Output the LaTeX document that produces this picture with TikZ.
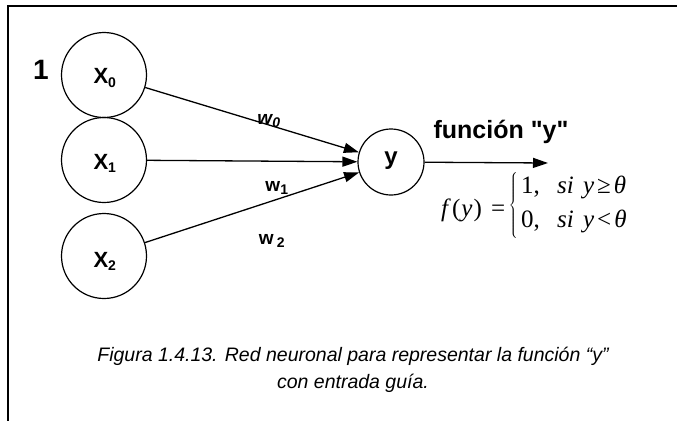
\documentclass[tikz,border=0pt]{standalone}
\usepackage{fontspec}
\setmainfont{Liberation Sans}
\newfontfamily\tnr{Liberation Serif}
\newfontfamily\arialplain{Liberation Sans}
\usetikzlibrary{arrows.meta}
\begin{document}
\begin{tikzpicture}[x=1pt,y=-1pt,
  neuron/.style={draw,line width=1.2pt,circle,minimum size=85pt,inner sep=0pt},
  outn/.style={draw,line width=1.2pt,circle,minimum size=66pt,inner sep=0pt},
  conn/.style={line width=1.3pt,-{Triangle[length=15pt,width=10pt]}},
  lbl/.style={font=\fontsize{22}{24}\selectfont\bfseries},
  wl/.style={font=\fontsize{19}{21}\selectfont\bfseries},
  fml/.style={anchor=base west,inner sep=0pt,font=\fontsize{25}{25}\tnr}]
\useasboundingbox (0,0) rectangle (677,421);
\draw[line width=1.3pt] (677,6) -- (8,6) -- (8,421);
\node[neuron] (x0) at (104,75) {};
\node[neuron] (x1) at (104,160) {};
\node[neuron] (x2) at (104,256) {};
\node[outn] (y) at (391,162) {};
\node[lbl] (lx0) at (105,78) {X\textsubscript{\fontsize{14}{15}\selectfont 0}};
\node[lbl] (lx1) at (105,163) {X\textsubscript{\fontsize{14}{15}\selectfont 1}};
\node[lbl] (lx2) at (105,261) {X\textsubscript{\fontsize{14}{15}\selectfont 2}};
\node[font=\fontsize{24}{26}\selectfont\bfseries] (ly) at (391,161) {y};
\node[font=\fontsize{28}{30}\selectfont\bfseries] (one) at (41,70) {1};
\draw[conn] (x0) -- (y);
\draw[conn] (x1) -- (y);
\draw[conn] (x2) -- (y);
\coordinate (out) at (548,163);
\draw[conn] (y) -- (out);
\node[font=\fontsize{19}{21}\selectfont\bfseries\itshape] (w0) at (269,121) {w\textsubscript{\fontsize{14}{15}\selectfont 0}};
\node[wl] (w1) at (277,188) {w\textsubscript{\fontsize{14}{15}\selectfont 1}};
\node[wl] (w2) at (272,241) {w\,\textsubscript{\fontsize{14}{15}\selectfont 2}};
\node[font=\fontsize{25}{27}\arialplain\bfseries] (fn) at (501,132) {función "y"};
\node[fml] (fy) at (441,216) {\itshape f\hspace{4pt}\upshape(\hspace{1pt}\itshape y\hspace{1pt}\upshape)};
\node[fml] (eq) at (491,216) {=};
\node[inner sep=0pt,font=\fontsize{13}{14}\selectfont] (br) at (514,205) {$\left\{\vrule height 30pt depth 30pt width 0pt\right.$};
\node[fml] (r1a) at (521,193) {1,};
\node[fml] (r1b) at (557,193) {\itshape si\hspace{3pt} y\hspace{3pt}\upshape≥\hspace{3pt}\itshape θ};
\node[fml] (r2a) at (521,227) {0,};
\node[fml] (r2b) at (557,227) {\itshape si\hspace{3pt} y\hspace{3pt}\upshape<\hspace{3pt}\itshape θ};
\node[font=\fontsize{19.5}{27}\selectfont\itshape,align=center] (cap) at (353,370)
  {Figura 1.4.13. Red neuronal para representar la función “y”\\con entrada guía.};
\end{tikzpicture}
\end{document}
